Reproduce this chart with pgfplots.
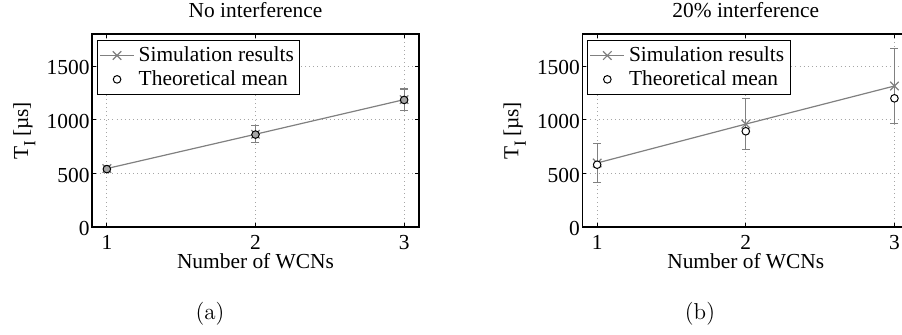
\documentclass[border=0pt]{standalone}
\usepackage{fontspec}
\usepackage{pgfplots}
\pgfplotsset{compat=1.18}
\newfontfamily\timesfont{Liberation Serif}
\newcommand\chartfont{\timesfont\fontsize{10.7}{12.8}\selectfont}
\newcommand\TI{T\raisebox{-0.35em}{\fontsize{8.5}{8.5}\selectfont I}\,[µs]}

\pgfplotsset{
  every axis title shift=0pt,
  wcnplot/.style={
    scale only axis, width=163.5pt, height=96.5pt,
    xmin=0.9, xmax=3.1, ymin=0, ymax=1800,
    xtick={1,2,3}, ytick={0,500,1000,1500},
    grid=major,
    major grid style={gray!70, line width=0.45pt, dash pattern=on 0.45pt off 1.6pt},
    tick align=inside, major tick length=2pt,
    tick style={black, line width=0.5pt},
    axis line style={black, line width=0.65pt},
    /pgf/number format/assume math mode=true,
    /pgf/number format/1000 sep={},
    tick label style={font=\chartfont},
    xticklabel style={anchor=base, yshift=-11.2pt},
    yticklabel style={anchor=east, xshift=2.3pt, yshift=-0.8pt},
    title style={font=\chartfont, at={(axis description cs:0.5,1.0845)}, anchor=base},
    every axis x label/.style={font=\chartfont,
      at={(axis description cs:0.5,-0.2124)}, anchor=base},
    every axis y label/.style={font=\chartfont,
      at={(axis description cs:-0.1957,0.5)}, rotate=90, anchor=base},
    xlabel={Number of WCNs},
    ylabel={\TI},
    legend cell align=left,
    legend style={at={(axis description cs:0,1)}, anchor=north west,
      xshift=2.4pt, yshift=-3pt, draw=black, line width=0.6pt,
      font=\chartfont, inner sep=1pt, row sep=-1pt},
  },
  simstyle/.style={gray, line width=0.6pt, mark=x, mark size=3pt,
    mark options={gray, line width=0.6pt},
    error bars/.cd, y dir=both, y explicit,
    error bar style={gray, line width=0.6pt},
    error mark options={gray, rotate=90, mark size=2pt, line width=0.6pt}},
  theostyle/.style={only marks, mark=*, mark size=1.9pt,
    mark options={draw=black, line width=0.5pt, fill=#1}},
  opencircle/.style={legend image code/.code={
    \draw[black, line width=0.5pt] (0.3cm,0) circle (1.9pt);}},
}

\begin{document}
\begin{tikzpicture}
\path[use as bounding box] (0,0) rectangle (451pt,167pt);

% (a) no interference
\begin{axis}[wcnplot, at={(46pt,53.5pt)}, anchor=south west,
  title={No interference}]
\addplot[simstyle] coordinates {
  (1,545) +- (0,25)
  (2,865) +- (0,80)
  (3,1188) +- (0,100)
};
\addlegendentry{Simulation results}
\addplot[theostyle=gray!70, opencircle] coordinates {
  (1,540) (2,862) (3,1185)
};
\addlegendentry{Theoretical mean}
\end{axis}

% (b) 20% interference
\begin{axis}[wcnplot, at={(291.15pt,53.5pt)}, anchor=south west,
  title={20\% interference}]
\addplot[simstyle] coordinates {
  (1,597) +- (0,180)
  (2,960) +- (0,240)
  (3,1315) +- (0,350)
};
\addlegendentry{Simulation results}
\addplot[theostyle=white, opencircle] coordinates {
  (1,581) (2,893) (3,1200)
};
\addlegendentry{Theoretical mean}
\end{axis}

\node[anchor=base, font=\fontsize{11.5}{13}\selectfont] at (105pt,7.5pt) {(a)};
\node[anchor=base, font=\fontsize{11.5}{13}\selectfont] at (350pt,7.5pt) {(b)};
\end{tikzpicture}
\end{document}
